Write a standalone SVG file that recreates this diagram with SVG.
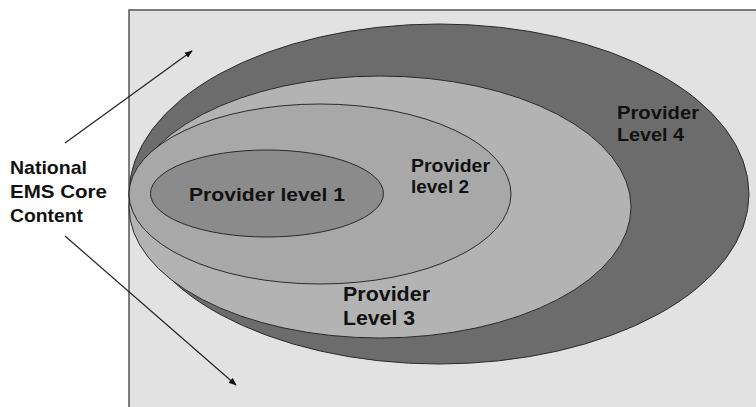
<svg xmlns="http://www.w3.org/2000/svg" width="756" height="407" viewBox="0 0 756 407">
<style>
.lbl{font-family:"Liberation Sans",Arial,sans-serif;font-weight:bold;fill:#111;}
.ell{stroke:#2a2a2a;stroke-width:1;}
.conn{stroke:#222;stroke-width:1.2;fill:none;}
</style>
<defs>
<marker id="ah" viewBox="0 0 10 10" refX="9" refY="5" markerWidth="8" markerHeight="8" markerUnits="userSpaceOnUse" orient="auto">
<path d="M0,1 L10,5 L0,9 Z" fill="#111"/>
</marker>
</defs>
<rect width="756" height="407" fill="#ffffff"/>
<g id="frame">
<rect x="129" y="10" width="640" height="410" fill="#e2e2e2" stroke="#555" stroke-width="1.5"/>
</g>
<g id="level4">
<ellipse class="ell" cx="439" cy="194" rx="310" ry="170" fill="#6c6c6c"/>
<text class="lbl" font-size="19" x="617" y="119" textLength="82" lengthAdjust="spacingAndGlyphs">Provider</text>
<text class="lbl" font-size="19" x="617" y="141" textLength="67" lengthAdjust="spacingAndGlyphs">Level 4</text>
</g>
<g id="level3">
<ellipse class="ell" cx="380" cy="207" rx="251" ry="131" fill="#b3b3b3"/>
<text class="lbl" font-size="20" x="343" y="301" textLength="87" lengthAdjust="spacingAndGlyphs">Provider</text>
<text class="lbl" font-size="20" x="343" y="325" textLength="72" lengthAdjust="spacingAndGlyphs">Level 3</text>
</g>
<g id="level2">
<ellipse class="ell" cx="320" cy="194" rx="191" ry="90" fill="#a8a8a8"/>
<text class="lbl" font-size="19" x="411" y="172" textLength="79" lengthAdjust="spacingAndGlyphs">Provider</text>
<text class="lbl" font-size="19" x="411" y="193" textLength="58" lengthAdjust="spacingAndGlyphs">level 2</text>
</g>
<g id="level1">
<ellipse class="ell" cx="267" cy="193.5" rx="116.5" ry="43.5" fill="#8b8b8b"/>
<text class="lbl" font-size="18.5" x="189" y="201" textLength="156" lengthAdjust="spacingAndGlyphs">Provider level 1</text>
</g>
<g id="core">
<text class="lbl" font-size="19" x="10" y="174" textLength="77" lengthAdjust="spacingAndGlyphs">National</text>
<text class="lbl" font-size="19" x="10" y="198" textLength="97" lengthAdjust="spacingAndGlyphs">EMS Core</text>
<text class="lbl" font-size="19" x="10" y="222" textLength="73" lengthAdjust="spacingAndGlyphs">Content</text>
</g>
<g id="connectors">
<line class="conn" x1="65" y1="143" x2="192" y2="51" marker-end="url(#ah)"/>
<line class="conn" x1="65" y1="236" x2="236" y2="385" marker-end="url(#ah)"/>
</g>
</svg>
